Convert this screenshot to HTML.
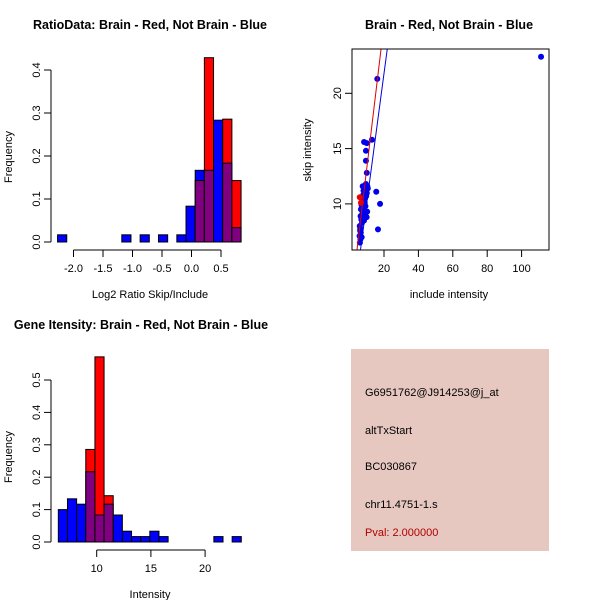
<!DOCTYPE html>
<html><head><meta charset="utf-8"><style>
body{margin:0;background:#fff;}
svg{display:block;font-family:"Liberation Sans",Arial,sans-serif;}
</style></head><body>
<svg id="s" width="600" height="600" xmlns="http://www.w3.org/2000/svg">
<rect width="600" height="600" fill="#fff"/>
<g id="g1"></g>
<g id="g2"></g>
<g id="g3"></g>
<g>
<rect x="351" y="349" width="198" height="202" fill="#e6c8c0"/>
<text x="365" y="396" font-size="11">G6951762@J914253@j_at</text>
<text x="365" y="434" font-size="11">altTxStart</text>
<text x="365" y="470" font-size="11">BC030867</text>
<text x="365" y="508" font-size="11">chr11.4751-1.s</text>
<text x="365" y="536" font-size="11" fill="#b00000">Pval: 2.000000</text>
</g>
</svg>
<script>
// ratio histogram data
const ratioBinStart = -2.27, ratioBinWidth = 0.1555;
const ratioBlue = [0.0167,0,0,0,0,0,0,0.0167,0,0.0167,0,0.0167,0,0.0167,0.0833,0.1667,0.1667,0.2833,0.1833,0.0333];
const ratioRed  = [0,0,0,0,0,0,0,0,0,0,0,0,0,0,0,0.1429,0.4286,0,0.2857,0.1429];
const ratioXTicks = [-2.0,-1.5,-1.0,-0.5,0.0,0.5];
const ratioXLabels = ["-2.0","-1.5","-1.0","-0.5","0.0","0.5"];
const ratioYTicks = [0,0.1,0.2,0.3,0.4];
const ratioYLabels = ["0.0","0.1","0.2","0.3","0.4"];
// intensity histogram data
const intBinStart = 6.46, intBinWidth = 0.844;
const intBlue = [0.1,0.1333,0.1167,0.2167,0.0833,0.1167,0.0833,0.0333,0.0167,0.0167,0.0333,0.0167,0,0,0,0,0,0.0167,0,0.0167];
const intRed  = [0,0,0,0.2857,0.5714,0.1429,0,0,0,0,0,0,0,0,0,0,0,0,0,0];
const intXTicks = [10,15,20];
const intXLabels = ["10","15","20"];
const intYTicks = [0,0.1,0.2,0.3,0.4,0.5];
const intYLabels = ["0.0","0.1","0.2","0.3","0.4","0.5"];
// scatter data
const scatInclude = [6,6.3,5.8,6.5,7,6.2,5.9,7.2,6.8,6.4,7.5,8,7.8,8.3,7.1,6.9,8.8,9.2,8.5,9,9.6,10,9.4,8.7,7.6,8.1,9.8,10.3,10.6,7.3,6.6,8.4,9.1,9.9,10.2,7.9,8.9,9.5,6.1,7.4,8.4,10,9.5,9.5,10,13,16.1,15.5,17.7,16.5,111.3];
const scatSkip    = [6.5,6.8,7.1,7.4,7.0,7.8,8.0,8.3,8.6,8.9,9.0,9.2,8.7,9.4,9.6,9.9,10.1,9.8,10.3,10.5,10.7,11.0,11.3,11.5,11.6,11.2,10.9,11.6,11.4,10.2,9.5,8.5,9.0,8.8,9.3,10.8,11.6,11.8,7.6,9.1,15.6,15.5,14.8,13.9,12.8,15.8,21.3,11.1,10.0,7.7,23.3];
const scatRedInclude = [5.9,6.6];
const scatRedSkip = [10.6,10.1];
const redLine = [0.24,1.30];   // intercept, slope
const blueLine = [-1.55,1.167];
const scatXTicks = [20,40,60,80,100];
const scatYTicks = [10,15,20];

const NS="http://www.w3.org/2000/svg";
function mk(p,tag,attrs){const e=document.createElementNS(NS,tag);for(const k in attrs)e.setAttribute(k,attrs[k]);p.appendChild(e);return e;}
function txt(p,x,y,s,size,opts){const t=mk(p,'text',Object.assign({x:x,y:y,'font-size':size,'text-anchor':'middle'},opts||{}));t.textContent=s;return t;}

function hist(g,cfg){
  const X=v=>cfg.x0px+(v-cfg.x0)*cfg.xs, Y=v=>cfg.y0px-v*cfg.ys;
  for(let i=0;i<cfg.blue.length;i++){
    const a=cfg.start+i*cfg.w, b=a+cfg.w, bl=cfg.blue[i], rd=cfg.red[i];
    const hi=Math.max(bl,rd), lo=Math.min(bl,rd);
    if(hi>0){
      const r=mk(g,'rect',{x:X(a),y:Y(hi),width:X(b)-X(a),height:Y(0)-Y(hi),fill:bl>=rd?'#0000ff':'#ff0000',stroke:'#000','stroke-width':1});
      
      
    }
    if(lo>0){
      const r=mk(g,'rect',{x:X(a),y:Y(lo),width:X(b)-X(a),height:Y(0)-Y(lo),fill:'#800080',stroke:'#000','stroke-width':1});
      
      
    }
  }
  mk(g,'line',{x1:51,x2:51,y1:Y(cfg.yt[0]),y2:Y(cfg.yt[cfg.yt.length-1]),stroke:'#000'});
  cfg.yt.forEach((v,i)=>{mk(g,'line',{x1:44,x2:51,y1:Y(v),y2:Y(v),stroke:'#000'});
    const t=txt(g,40,Y(v),cfg.yl[i],11,{transform:`rotate(-90 40 ${Y(v)})`});
    
    });
  const ay=cfg.y0px+8;
  mk(g,'line',{x1:X(cfg.xt[0]),x2:X(cfg.xt[cfg.xt.length-1]),y1:ay,y2:ay,stroke:'#000'});
  cfg.xt.forEach((v,i)=>{mk(g,'line',{x1:X(v),x2:X(v),y1:ay,y2:ay+7,stroke:'#000'});
    const t=txt(g,X(v),ay+22,cfg.xl[i],11);
    
    });
}
const g1=document.getElementById('g1');
hist(g1,{blue:ratioBlue,red:ratioRed,start:ratioBinStart,w:ratioBinWidth,x0:0,x0px:191.5,xs:59,y0px:242,ys:430,yt:ratioYTicks,yl:ratioYLabels,xt:ratioXTicks,xl:ratioXLabels});
let t=txt(g1,150,29,'RatioData: Brain - Red, Not Brain - Blue',12.5,{'font-weight':'bold'});

t=txt(g1,150,298,'Log2 Ratio Skip/Include',11);

t=txt(g1,12,157,'Frequency',11,{transform:'rotate(-90 12 157)'});


const g3=document.getElementById('g3');
hist(g3,{blue:intBlue,red:intRed,start:intBinStart,w:intBinWidth,x0:10,x0px:96.7,xs:10.84,y0px:542,ys:324,yt:intYTicks,yl:intYLabels,xt:intXTicks,xl:intXLabels});
t=txt(g3,141,329,'Gene Itensity: Brain - Red, Not Brain - Blue',12.5,{'font-weight':'bold'});

t=txt(g3,150,598,'Intensity',11);

t=txt(g3,12,457,'Frequency',11,{transform:'rotate(-90 12 457)'});


// scatter
const g2=document.getElementById('g2');
const SX=v=>349.6+v*1.72, SY=v=>93.3-(v-20)*11.06;
const cp=mk(g2,'clipPath',{id:'cp'});mk(cp,'rect',{x:352,y:49,width:197,height:201});
const pg=mk(g2,'g',{'clip-path':'url(#cp)'});
scatInclude.forEach((v,i)=>{const c=mk(pg,'circle',{cx:SX(v),cy:SY(scatSkip[i]),r:3,fill:'#0000ee'});
  });
scatRedInclude.forEach((v,i)=>{const c=mk(pg,'circle',{cx:SX(v),cy:SY(scatRedSkip[i]),r:3,fill:'#ee0000'});
  });
[[redLine,'#dd0000','red-fit-line'],[blueLine,'#0000dd','blue-fit-line']].forEach(([L,col,n])=>{
  const l=mk(pg,'line',{x1:SX(0),y1:SY(L[0]),x2:SX(30),y2:SY(L[0]+L[1]*30),stroke:col,'stroke-width':1});
  });
mk(g2,'rect',{x:352,y:49,width:197,height:201,fill:'none',stroke:'#000'});
scatXTicks.forEach(v=>{mk(g2,'line',{x1:SX(v),x2:SX(v),y1:250,y2:257,stroke:'#000'});
  const tt=txt(g2,SX(v),272,String(v),11);});
scatYTicks.forEach(v=>{mk(g2,'line',{x1:345,x2:352,y1:SY(v),y2:SY(v),stroke:'#000'});
  const tt=txt(g2,341,SY(v),String(v),11,{transform:`rotate(-90 341 ${SY(v)})`});});
t=txt(g2,449,29,'Brain - Red, Not Brain - Blue',12.5,{'font-weight':'bold'});

t=txt(g2,449,298,'include intensity',11);

t=txt(g2,311,150,'skip intensity',11,{transform:'rotate(-90 311 150)'});

</script>
</body></html>
